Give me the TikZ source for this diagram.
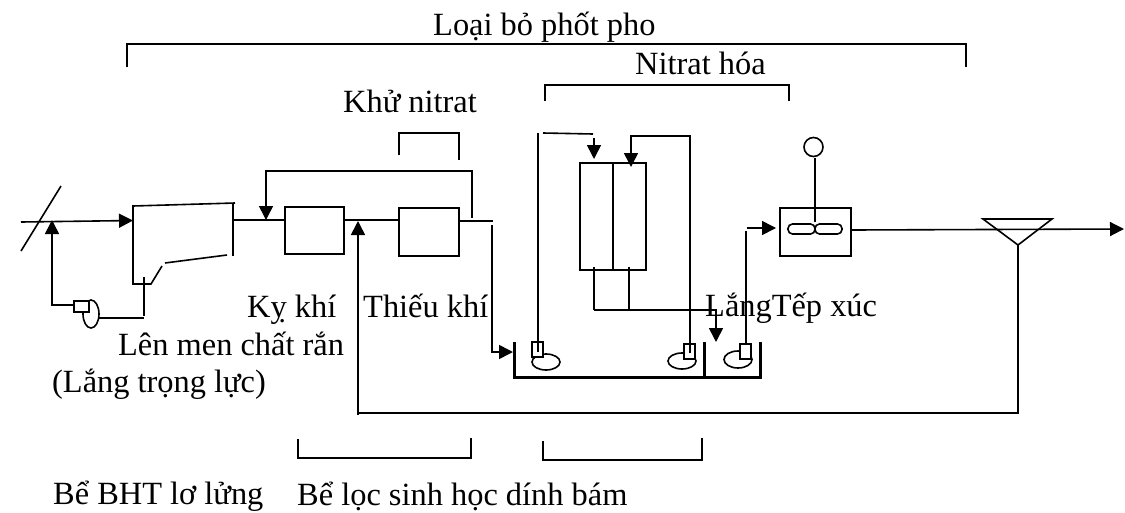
\documentclass[tikz,border=0pt]{standalone}
\usepackage{fontspec}
\setmainfont{Liberation Serif}
\usetikzlibrary{arrows.meta}
\tikzset{
  ln/.style={draw=black,line width=1.6pt},
  thick wall/.style={draw=black,line width=3pt},
  hd/.style={-{Triangle[length=14pt,width=14pt]}},
  lbl/.style={inner sep=0pt,anchor=base west,font=\fontsize{32.4pt}{36pt}\selectfont},
  boxx/.style={draw=black,line width=1.6pt,fill=white},
}
\begin{document}
\begin{tikzpicture}[x=1pt,y=-1pt]
\useasboundingbox (0,0) rectangle (1125,512);
% texts
\node[lbl] (t1) at (433,35) {Loại bỏ phốt pho};
\node[lbl] (t2) at (635,74) {Nitrat hóa};
\node[lbl] (t3) at (343,112) {Khử nitrat};
\node[lbl] (t4) at (247,317) {Kỵ khí};
\node[lbl] (t5) at (363,317) {Thiếu khí};
\node[lbl] (t6) at (705,316) {LắngTếp xúc};
\node[lbl] (t8) at (118,355) {Lên men chất rắn};
\node[lbl] (t9) at (52,392) {(Lắng trọng lực)};
\node[lbl] (t10) at (53,504) {Bể BHT lơ lửng};
\node[lbl] (t11) at (297,505) {Bể lọc sinh học dính bám};
% brackets
\draw[ln] (127,67) -- (127,44) -- (966,44) -- (966,67);
\draw[ln] (545,101) -- (545,85) -- (789,85) -- (789,101);
\draw[ln] (399,155) -- (399,133) -- (459,133) -- (459,160);
\draw[ln] (298,439) -- (298,458) -- (471,458) -- (471,438);
\draw[ln] (543,441) -- (543,460) -- (702,460) -- (702,438);
% inlet
\draw[ln] (21,251) -- (61,186);
\coordinate (fi) at (133,220.5);
\draw[ln,hd] (21,222) -- (fi);
\coordinate (ret) at (52,220);
\draw[ln,hd] (74,305) -- (52,305) -- (ret);
\draw[ln] (91,314) ellipse (8 and 14);
\node[boxx,minimum width=15pt,minimum height=11pt,inner sep=0pt] (pump1) at (81.5,306.5) {};
\draw[ln] (99,318) -- (144,318);
\draw[ln] (144,277) -- (144,316);
% settler
\draw[ln] (235,203) -- (133,206) -- (133,284) -- (151,284) -- (162,266);
\draw[ln] (165,263) -- (227,255);
\draw[ln] (233,203) -- (233,256);
% boxes
\node[boxx,minimum width=59pt,minimum height=47pt,inner sep=0pt] (b1) at (314.5,230.5) {};
\node[boxx,minimum width=60pt,minimum height=48pt,inner sep=0pt] (b2) at (429,232) {};
\draw[ln] (233,220) -- (b1.west |- 0,220);
\draw[ln] (344,220) -- (399,220);
\draw[ln] (459,221) -- (493,221);
\coordinate (rc) at (266,220);
\draw[ln,hd] (472,218) -- (472,171) -- (266,171) -- (rc);
\coordinate (main) at (358,221);
\draw[ln] (1018,245) -- (1018,413) -- (358,413);
\draw[ln,hd] (358,415) -- (main);
\coordinate (fd) at (513,352);
\draw[ln,hd] (492,225) -- (492,352) -- (fd);
% tank
\draw[thick wall] (514,342) -- (514,377) -- (760,377) -- (760,342);
\draw[thick wall] (704,342) -- (704,377);
% filter
\node[boxx,minimum width=66pt,minimum height=107pt,inner sep=0pt] (f) at (613,216.5) {};
\draw[ln] (f.north) -- (f.south);
\coordinate (a1) at (594,159);
\draw[ln,hd] (594,138) -- (a1);
\draw[ln] (543,133) -- (593,134);
\coordinate (a2) at (631,167);
\coordinate (a3) at (716,342);
\draw[ln] (594,267) -- (594,310);
\draw[ln] (629,267) -- (629,310);
\draw[ln,hd] (594,310) -- (716,310) -- (a3);
% mixers
\draw[ln] (546,362) ellipse (14 and 8);
\node[boxx,minimum width=11pt,minimum height=15pt,inner sep=0pt] (m1) at (537.5,349.5) {};
\draw[ln] (538,133) -- (538,352);
\draw[ln] (682,361) ellipse (14 and 8);
\node[boxx,minimum width=11pt,minimum height=15pt,inner sep=0pt] (m2) at (689.5,351.5) {};
\draw[ln,hd] (690,353) -- (690,136) -- (631,136) -- (a2);
\draw[ln] (738,359.5) ellipse (14 and 8.5);
\node[boxx,minimum width=11pt,minimum height=15pt,inner sep=0pt] (m3) at (745.5,351.5) {};
\draw[ln] (746,231) -- (746,344);
\coordinate (a4) at (776,228);
\draw[ln,hd] (747,228) -- (a4);
% contact
\node[boxx,minimum width=71pt,minimum height=48pt,inner sep=0pt] (c) at (815.5,232) {};
\node[draw=black,line width=1.6pt,circle,minimum size=19pt,inner sep=0pt] (o) at (813.5,147) {};
\draw[ln] (815,158) -- (815,222);
\draw[ln,rounded corners=4.5pt] (788,224) rectangle (815,234);
\draw[ln,rounded corners=4.5pt] (815,224) rectangle (842,234);
% outlet
\draw[ln,hd] (851,230) -- (1124,229);
\draw[ln] (983,219) -- (1052,219) -- (1018,245) -- cycle;
\end{tikzpicture}
\end{document}
